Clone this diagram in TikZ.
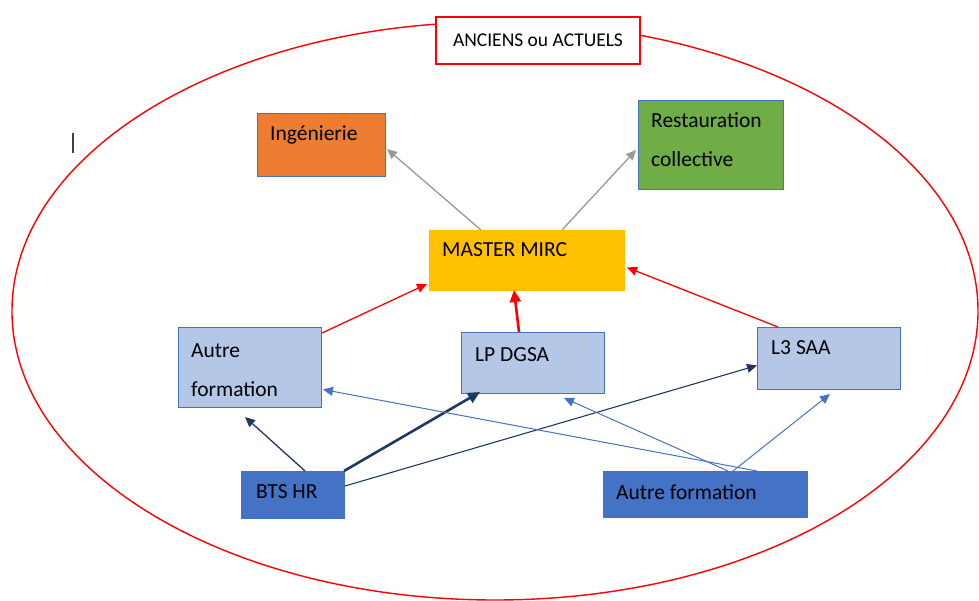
\documentclass[tikz,border=0pt]{standalone}
\usepackage{fontspec}
\setmainfont{Carlito}
\usetikzlibrary{arrows.meta}

\definecolor{boxline}{HTML}{4472C4}
\definecolor{lightblue}{HTML}{B4C7E7}
\definecolor{darkblue}{HTML}{4472C4}
\definecolor{navy}{HTML}{203864}
\definecolor{orange}{HTML}{ED7D31}
\definecolor{green}{HTML}{70AD47}
\definecolor{gold}{HTML}{FFC000}
\definecolor{arrgray}{HTML}{999999}
\definecolor{red}{HTML}{FF0000}

\begin{document}
\begin{tikzpicture}[x=1pt,y=-1pt,
	box/.style={draw=boxline,line width=1pt,inner sep=0pt,anchor=north west},
	txt/.style={anchor=base west,inner sep=0pt,font=\fontsize{21.5}{39}\selectfont,align=left},
	tip/.style={-{Triangle[length=10pt,width=9pt]},line width=1.3pt},
	bigtip/.style={-{Triangle[length=12pt,width=11pt]},line width=2.6pt}]
	\useasboundingbox (0,0) rectangle (979,601);
	% outer ellipse and title
	\draw [red,line width=1.4pt] (495,311) ellipse (483 and 289);
	\node [draw=red,line width=1.2pt,fill=white,minimum width=204,minimum height=47,inner sep=0pt,
		font=\fontsize{19.5}{24}\selectfont] (title) at (538,40.5) {ANCIENS ou ACTUELS};
	\draw [black!75,line width=1.5pt] (73,133) -- (73,153);
	% boxes
	\node [box,fill=orange,minimum width=128,minimum height=63] (ing) at (257,113) {};
	\node [box,fill=green,minimum width=145,minimum height=89] (rest) at (638,100) {};
	\node [box,draw=gold,fill=gold,minimum width=195,minimum height=60] (master) at (429,230) {};
	\node [box,fill=lightblue,minimum width=143,minimum height=80] (autreL) at (178,327) {};
	\node [box,fill=lightblue,minimum width=143,minimum height=61] (lp) at (461,332) {};
	\node [box,fill=lightblue,minimum width=143,minimum height=62] (l3) at (757,327) {};
	\node [box,fill=darkblue,minimum width=103,minimum height=47] (bts) at (241,471) {};
	\node [box,fill=darkblue,minimum width=204,minimum height=46] (autreB) at (603,471) {};
	% texts (base of two-line texts is the last line)
	\node [txt] (ingtxt) at ([xshift=13pt,yshift=-28pt]ing.north west) {Ingénierie};
	\node [txt] (resttxt) at ([xshift=13pt,yshift=-67pt]rest.north west) {Restauration\\collective};
	\node [txt] (mastertxt) at ([xshift=13pt,yshift=-27pt]master.north west) {MASTER MIRC};
	\node [txt] (autreLtxt) at ([xshift=13pt,yshift=-69pt]autreL.north west) {Autre\\formation};
	\node [txt] (lptxt) at ([xshift=14pt,yshift=-29pt]lp.north west) {LP DGSA};
	\node [txt] (l3txt) at ([xshift=14pt,yshift=-27pt]l3.north west) {L3 SAA};
	\node [txt] (btstxt) at ([xshift=15pt,yshift=-27pt]bts.north west) {BTS HR};
	\node [txt] (autreBtxt) at ([xshift=13pt,yshift=-28pt]autreB.north west) {Autre formation};
	% master towards jobs
	\draw [tip,arrgray] ([xshift=52pt]master.north west) -- ([xshift=1pt,yshift=-4pt]ing.east);
	\draw [tip,arrgray] ([xshift=133pt]master.north west) -- ([xshift=-2pt,yshift=-5pt]rest.west);
	% towards master
	\draw [tip,red] ([yshift=-6pt]autreL.north east) -- ([xshift=-2pt,yshift=7pt]master.south west);
	\draw [bigtip,red] ([xshift=58pt]lp.north west) -- ([xshift=85pt,yshift=1pt]master.south west);
	\draw [tip,red] ([xshift=21pt]l3.north west) -- ([xshift=2pt,yshift=-7pt]master.east);
	% from BTS HR
	\draw [tip,navy] ([xshift=64pt]bts.north west) -- ([xshift=67pt,yshift=-9pt]autreL.south west);
	\draw [bigtip,navy] ([xshift=-1pt]bts.north east) -- ([xshift=19pt,yshift=2pt]lp.south west);
	\draw [tip,navy,line width=1.1pt] ([yshift=-15pt]bts.north east) -- ([yshift=-7pt]l3.west);
	% from Autre formation
	\draw [tip,darkblue,line width=1pt] ([xshift=154pt]autreB.north west) -- ([xshift=1pt,yshift=-22pt]autreL.east);
	\draw [tip,darkblue,line width=1pt] ([xshift=125pt]autreB.north west) -- ([xshift=103pt,yshift=-4pt]lp.south west);
	\draw [tip,darkblue,line width=1pt] ([xshift=130pt]autreB.north west) -- ([xshift=73pt,yshift=-4pt]l3.south west);
\end{tikzpicture}
\end{document}
